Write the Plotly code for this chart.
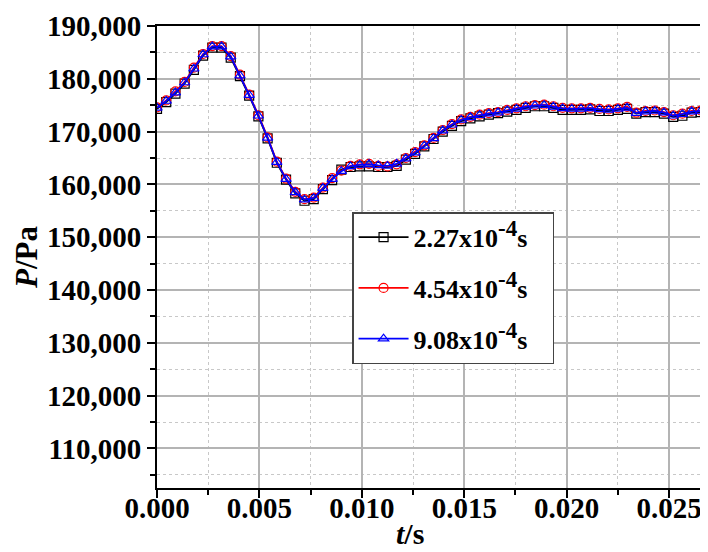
import plotly.graph_objects as go

time_s = [0, 0.00045, 0.0009, 0.00135, 0.0018, 0.00225, 0.0027, 0.00315, 0.0036, 0.00405,
          0.0045, 0.00495, 0.0054, 0.00585, 0.0063, 0.00675, 0.0072, 0.00765, 0.0081, 0.00855,
          0.009, 0.00945, 0.0099, 0.01035, 0.0108, 0.01125, 0.0117, 0.01215, 0.0126, 0.01305,
          0.0135, 0.01395, 0.0144, 0.01485, 0.0153, 0.01575, 0.0162, 0.01665, 0.0171, 0.01755,
          0.018, 0.01845, 0.0189, 0.01935, 0.0198, 0.02025, 0.0207, 0.02115, 0.0216, 0.02205,
          0.0225, 0.02295, 0.0234, 0.02385, 0.0243, 0.02475, 0.0252, 0.02565, 0.0261, 0.02655, 0.027]

p_227 = [174300, 175600, 177200, 179100, 181700, 184400, 185900, 185900, 184000, 180500,
         176800, 172900, 168700, 164100, 160900, 158300, 156900, 157200, 159100, 160800,
         162800, 163300, 163400, 163400, 163300, 163300, 163500, 164700, 165800, 167200,
         168600, 170000, 171100, 172000, 172500, 172900, 173200, 173500, 173800, 174100,
         174500, 174800, 174800, 174500, 174100, 174100, 174100, 174200, 173900, 173900,
         174100, 174300, 173400, 173700, 173700, 173400, 172800, 173000, 173600, 173700, 173600]

p_454 = [174600, 175900, 177600, 179400, 182100, 184700, 186200, 186200, 184300, 180800,
         177000, 173100, 168900, 164300, 161100, 158600, 157200, 157500, 159400, 161200,
         162600, 163500, 163800, 163900, 163500, 163400, 163800, 165000, 166100, 167400,
         168800, 170300, 171400, 172300, 172800, 173200, 173500, 173700, 174100, 174400,
         174800, 175000, 175100, 174800, 174500, 174400, 174400, 174500, 174300, 174200,
         174400, 174700, 173600, 173900, 174000, 173700, 173100, 173400, 173900, 174000, 173900]

p_908 = [174500, 175800, 177400, 179300, 181900, 184600, 186100, 186100, 184200, 180600,
         176900, 173000, 168800, 164200, 161000, 158500, 157100, 157400, 159300, 161000,
         162500, 163400, 163700, 163800, 163600, 163500, 163900, 164900, 166000, 167300,
         168700, 170200, 171300, 172200, 172700, 173100, 173400, 173600, 174000, 174300,
         174700, 174900, 175000, 174700, 174400, 174300, 174300, 174400, 174200, 174100,
         174300, 174500, 173500, 173800, 173900, 173600, 173000, 173300, 173800, 173900, 173800]

series_names = ["2.27x10", "4.54x10", "9.08x10"]
series_values = [p_227, p_454, p_908]
series_colors = ["#000000", "#ff0000", "#0000ff"]
series_symbols = ["square-open", "circle-open", "triangle-up-open"]

x_ticks = [0.000, 0.005, 0.010, 0.015, 0.020, 0.025]
y_ticks = [110000, 120000, 130000, 140000, 150000, 160000, 170000, 180000, 190000]

FONT = "Liberation Serif, Times New Roman, serif"

fig = go.Figure()
for i, (name, vals, col, sym) in enumerate(zip(series_names, series_values, series_colors, series_symbols)):
    fig.add_trace(go.Scatter(
        x=time_s, y=vals, mode="lines+markers",
        name="<b>" + name + "<sup><span style='font-size:23px'>-4</span></sup>s</b>&nbsp;&nbsp;&nbsp;",
        legendgroup="g%d" % i,
        line=dict(color=col, width=1.8),
        marker=dict(symbol=sym, size=9, color=col, line=dict(color=col, width=1.2)),
    ))

fig.update_layout(
    width=700, height=544,
    margin=dict(l=149, r=0, t=18, b=64, autoexpand=False),
    paper_bgcolor="white", plot_bgcolor="white",
    font=dict(family=FONT, size=28, color="black"),
    showlegend=True,
    legend=dict(
        x=0.354, y=0.597, xanchor="left", yanchor="top",
        bgcolor="white", bordercolor="#444444", borderwidth=1.5,
        font=dict(family=FONT, size=26, color="black"),
        traceorder="grouped", tracegroupgap=14, itemwidth=50,
    ),
    annotations=[dict(
        text="<b><i>t</i>/s</b>", xref="paper", yref="paper", x=0.459, y=-0.098,
        xanchor="center", yanchor="middle", showarrow=False,
        font=dict(family=FONT, size=30, color="black"),
    )],
)

fig.update_xaxes(
    range=[0, 0.0269], tickvals=x_ticks, tickformat=".3f", automargin=False,
    showline=True, linecolor="black", linewidth=2, mirror=True,
    ticks="outside", ticklen=8, tickwidth=1.5, tickcolor="black",
    ticklabelstandoff=-15,
    tickfont=dict(family=FONT, size=29, color="black", weight="bold"),
    showgrid=True, gridcolor="#b4b4b4", gridwidth=1.5, zeroline=False,
    minor=dict(dtick=0.0025, tick0=0, ticks="outside", ticklen=5, tickwidth=1.5, tickcolor="black",
               showgrid=True, gridcolor="#c8c8c8", gridwidth=1, griddash="dot"),
)
fig.update_yaxes(
    range=[102500, 190000], tickvals=y_ticks, tickformat=",d", automargin=False,
    showline=True, linecolor="black", linewidth=2, mirror=False,
    ticks="outside", ticklen=8, tickwidth=1.5, tickcolor="black",
    tickfont=dict(family=FONT, size=29, color="black", weight="bold"),
    showgrid=True, gridcolor="#b4b4b4", gridwidth=1.5, zeroline=False,
    minor=dict(dtick=5000, tick0=0, ticks="outside", ticklen=5, tickwidth=1.5, tickcolor="black",
               showgrid=True, gridcolor="#c8c8c8", gridwidth=1, griddash="dot"),
    title=dict(text="<b><i>P</i>/Pa</b>", font=dict(family=FONT, size=31, color="black"), standoff=0),
)

fig.write_html("out.html")
